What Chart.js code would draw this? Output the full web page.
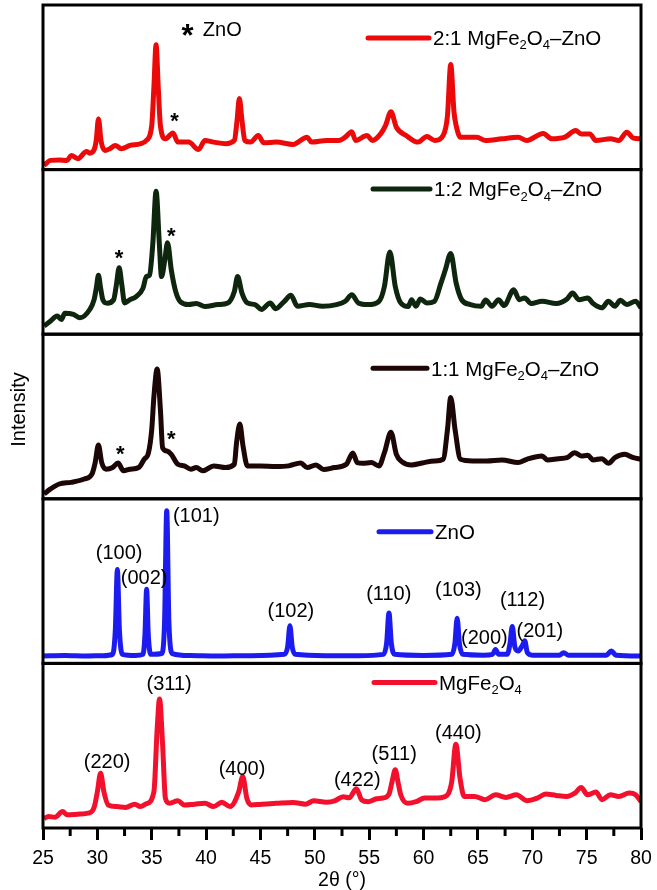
<!DOCTYPE html>
<html>
<head>
<meta charset="utf-8">
<script src="https://cdn.jsdelivr.net/npm/chart.js@4.4.1/dist/chart.umd.min.js"></script>
<style>
  html, body { margin: 0; padding: 0; background: #fff; }
</style>
</head>
<body>
<canvas id="xrd" width="657" height="890"></canvas>
<script>
// [2theta, intensity]; intensity is % of its panel height
const ratio21 = [[25.1,2.6],[25.7,5.6],[26.5,5.8],[27.2,5.6],[27.6,8.6],[28.2,6.6],[29.0,11],[29.3,10],[29.7,12],[29.9,18],[30.1,30.7],[30.35,17],[30.7,11.6],[31.15,12.7],[31.65,14.7],[32.2,12.7],[33.0,14.7],[33.95,15.7],[34.5,17.7],[35.0,26.7],[35.2,50],[35.4,75.9],[35.6,50],[35.8,26.7],[36.26,18.7],[36.95,22.3],[37.4,16.7],[38.4,16.7],[39.3,12.2],[39.9,17.7],[40.7,16.7],[41.8,15.7],[42.6,17.7],[42.85,30],[43.06,43.2],[43.3,30],[43.56,17.7],[44.1,16.7],[44.8,20.7],[45.3,16.3],[46.45,16.7],[48.0,15.3],[49.3,19.7],[49.7,16.7],[51.1,17.7],[52.2,17.7],[52.8,19.7],[53.4,23],[53.75,17.7],[54.8,20.7],[55.3,17.7],[56.05,21.7],[56.5,26.7],[57.0,35.1],[57.5,25.7],[58.4,20.7],[59.5,16.7],[60.3,20.1],[61.05,17.7],[61.8,20.7],[62.2,32.7],[62.5,63.9],[62.8,35],[63.0,26.7],[63.4,19.7],[64.9,19.7],[65.7,17.7],[67.2,18.7],[68.7,19.7],[69.5,17.7],[71.0,22],[71.8,18.7],[73.0,19.7],[74.0,23.7],[74.5,21.7],[75.3,21.7],[75.85,17.7],[77.2,18.7],[77.95,17.7],[78.7,22.7],[79.3,19.1],[80,18.7]];
const ratio12 = [[25.1,5],[25.7,8],[26.3,11],[26.7,9],[27.0,12.7],[27.8,12],[28.4,10],[29.3,15],[29.7,21],[29.9,28],[30.1,35.8],[30.3,28],[30.5,21],[30.9,18.8],[31.5,21],[31.75,30],[32.0,40.4],[32.25,30],[32.5,19],[33.0,21],[33.6,23],[34.2,28],[34.5,35],[34.8,36],[35.1,55],[35.4,86.9],[35.7,55],[35.9,35],[36.2,45],[36.45,55.6],[36.8,39],[37.2,26],[37.6,20],[38.4,18],[39.1,18.6],[39.9,16.8],[41.1,18],[42.0,19],[42.6,26],[42.9,35],[43.3,25],[43.8,19],[44.5,18],[45.1,15],[45.9,19],[46.4,15.5],[47.2,20],[47.8,23.6],[48.4,17],[49.5,18],[50.7,17],[52.0,18],[52.8,20],[53.4,24],[54.0,19],[54.9,18],[55.9,20],[56.4,29],[56.9,50],[57.4,29],[57.9,19],[58.6,16.8],[58.9,21],[59.3,17],[59.7,21.4],[60.3,19],[61.0,20],[61.6,31],[62.0,39],[62.5,49],[63.0,31],[63.5,21],[64.3,18],[65.3,17],[65.7,20.8],[66.3,17],[66.9,21],[67.4,17.4],[68.3,27],[68.8,21],[69.3,22],[69.9,18.6],[70.9,20],[72.2,18.6],[73.2,21.4],[73.7,25],[74.3,21],[75.1,22],[75.6,18.6],[76.4,16],[77.0,20],[77.6,17],[78.1,20.6],[78.7,18],[79.5,20],[80,16]];
const ratio11 = [[25.1,3],[25.7,6],[26.5,9],[27.6,10],[28.8,12],[29.5,15],[29.8,22],[30.1,32.7],[30.4,22],[30.8,18],[31.4,19],[31.9,21.8],[32.4,17],[33.0,18],[33.8,19],[34.3,24],[34.7,28],[35.0,42],[35.2,62],[35.5,78.8],[35.8,54],[36.0,31],[36.4,29],[36.8,27],[37.4,21],[38.0,20],[38.6,18],[39.1,19],[39.7,17],[40.7,20],[41.8,19],[42.6,21],[42.8,34],[43.1,45.5],[43.4,32],[43.8,20],[45.0,20],[46.4,19.6],[47.6,20],[48.7,21.8],[49.3,19],[50.1,20.6],[50.8,17.8],[51.8,19],[52.9,21],[53.5,27.9],[53.9,22],[54.4,21.6],[55.2,22],[55.9,20],[56.4,28],[57.0,40.4],[57.5,27],[58.0,22.6],[58.9,20.6],[59.9,21.8],[61.0,23],[61.8,24],[62.2,42],[62.5,61.6],[62.9,42],[63.4,24],[64.5,23],[65.8,23],[67.2,23.6],[68.7,22],[69.5,24],[70.9,26],[71.4,23.6],[72.4,24.4],[73.2,25],[73.9,28],[74.5,26],[75.1,26.4],[75.6,23.6],[76.4,24.4],[77.0,21.6],[77.6,25],[78.5,27],[79.3,25],[80,24]];
const zincOxide = [[25,4.5],[27,4.8],[29,4.5],[30.5,4.7],[31.4,5.5],[31.65,20],[31.84,57],[32.03,20],[32.3,5.5],[33.5,4.8],[34.2,5.5],[34.38,18],[34.53,45],[34.68,18],[34.9,5.5],[35.9,6],[36.18,25],[36.38,92.8],[36.58,25],[36.9,6],[38.5,4.8],[41,4.5],[44,4.7],[47.2,5.5],[47.5,10],[47.71,22.8],[47.92,10],[48.2,5.5],[51,4.7],[54,4.7],[56.3,5.5],[56.6,12],[56.82,30.6],[57.04,12],[57.35,5.5],[60,4.8],[62.6,5.5],[62.88,12],[63.09,27.5],[63.3,12],[63.6,5.5],[65.5,5],[66.35,5.5],[66.62,8.5],[66.9,5.5],[67.7,5.5],[67.95,12],[68.16,22.4],[68.4,10],[68.7,7.5],[69.1,11],[69.31,13.7],[69.55,6.5],[70,5],[72.5,5],[72.89,6.5],[73.3,5],[76.8,5],[77.27,7.5],[77.7,5],[80,4.5]];
const magFerrite = [[25.1,5.7],[25.5,7],[26.1,6.5],[26.8,10],[27.2,8],[28.4,8.5],[29.15,9],[29.7,12.5],[30.0,22],[30.3,33.3],[30.6,22],[31.0,14],[31.8,13],[32.6,12.5],[33.45,14.5],[33.95,13],[34.5,14.7],[35.2,22],[35.5,60],[35.72,78.4],[35.99,52],[36.26,18],[36.64,15],[37.4,16.5],[38.0,14],[38.95,14.5],[39.9,15],[40.7,13],[41.45,15.7],[42.2,13],[43.0,22],[43.37,31.3],[43.75,18],[44.14,14],[45.1,14.5],[46.45,15],[48.0,15.5],[49.14,14.5],[49.9,16.5],[51.06,15.7],[51.83,16.5],[52.6,19],[53.17,18.4],[53.82,23.8],[54.32,17],[54.9,16],[55.67,17.8],[56.25,18.2],[56.82,20.6],[57.1,28],[57.4,35.4],[57.65,28],[57.9,20.2],[58.55,15],[59.32,16],[60.09,18.2],[61.05,18.2],[62.0,19.2],[62.59,28],[62.97,50.9],[63.36,30],[63.74,19.2],[64.7,19.2],[65.66,17.2],[66.62,20.2],[67.58,18.6],[68.54,20.2],[69.5,16.6],[70.46,18.2],[71.23,20.6],[72.19,19.8],[73.16,19.2],[73.92,21.2],[74.5,24.6],[75.08,20.2],[75.85,21.8],[76.42,17.2],[77.19,20.2],[77.96,19.2],[78.92,21.2],[79.5,20.2],[80,16]];

// panels top to bottom
const series = [ratio21, ratio12, ratio11, zincOxide, magFerrite];
const seriesNames = ['2:1 MgFe_2O_4–ZnO', '1:2 MgFe_2O_4–ZnO', '1:1 MgFe_2O_4–ZnO', 'ZnO', 'MgFe_2O_4'];
const xTicks = [25, 30, 35, 40, 45, 50, 55, 60, 65, 70, 75, 80];

// peak labels: [panel, 2theta, intensity, text]
const planeLabels = [
  [3, 32.0, 67, '(100)'], [3, 34.3, 51.5, '(002)'], [3, 39.1, 89, '(101)'],
  [3, 47.8, 31.7, '(102)'], [3, 56.8, 42, '(110)'], [3, 63.2, 44, '(103)'],
  [3, 65.6, 15, '(200)'], [3, 69.1, 38.5, '(112)'], [3, 70.7, 19.3, '(201)'],
  [4, 30.9, 40, '(220)'], [4, 36.6, 87.3, '(311)'], [4, 43.3, 35.4, '(400)'],
  [4, 53.9, 28.7, '(422)'], [4, 57.3, 44.4, '(511)'], [4, 63.2, 57.6, '(440)']
];
// ZnO reflections marked with *: [panel, 2theta, intensity]
const starMarks = [[0, 37.1, 32.7], [1, 32.0, 49.5], [1, 36.8, 62.6], [2, 32.1, 30.3], [2, 36.8, 39.4]];

const colors = ['#ec0909', '#0d260d', '#1c0606', '#1c1cf0', '#f2102c'];
// legend placement per panel: [line start, line end, offset from panel top] in px
const legendPos = [[325, 386, 33], [330, 387, 19.5], [330, 384, 34], [336, 388, 33], [331, 392, 19]];

const FONT = '"Liberation Sans", Arial, Helvetica, sans-serif';
Chart.defaults.font.family = FONT;
Chart.defaults.color = '#000';

const yIds = series.map((s, i) => 'y' + i);

function drawRich(ctx, str, x, y, size) {
  // "_d" -> subscript digit
  const parts = str.split(/_(\d)/);
  ctx.textAlign = 'left';
  ctx.textBaseline = 'alphabetic';
  const base = y + size * 0.36;
  parts.forEach((p, k) => {
    const sub = k % 2 === 1;
    ctx.font = (sub ? Math.round(size * 0.62) : size) + 'px ' + FONT;
    ctx.fillText(p, x, sub ? base + size * 0.2 : base);
    x += ctx.measureText(p).width;
  });
}

const panelPlugin = {
  id: 'panels',
  afterDatasetsDraw(chart) {
    const { ctx, chartArea } = chart;
    const xs = chart.scales.x;
    ctx.save();
    yIds.forEach((id, i) => {
      const ys = chart.scales[id];
      ctx.lineWidth = 3;
      ctx.strokeStyle = '#000';
      ctx.strokeRect(chartArea.left, ys.top, chartArea.right - chartArea.left, ys.bottom - ys.top);

      const lp = legendPos[i];
      const ly = ys.top + lp[2];
      ctx.beginPath();
      ctx.lineWidth = 5;
      ctx.lineCap = 'round';
      ctx.strokeStyle = colors[i];
      ctx.moveTo(chartArea.left + lp[0], ly);
      ctx.lineTo(chartArea.left + lp[1], ly);
      ctx.stroke();
      ctx.lineCap = 'butt';
      ctx.fillStyle = '#000';
      drawRich(ctx, seriesNames[i], chartArea.left + lp[1] + 4, ly, 20.5);
    });

    // minor ticks between labelled ones
    ctx.strokeStyle = '#000';
    ctx.lineWidth = 3;
    for (let k = 0; k < xTicks.length - 1; k++) {
      const px = xs.getPixelForValue((xTicks[k] + xTicks[k + 1]) / 2);
      ctx.beginPath();
      ctx.moveTo(px, chartArea.bottom);
      ctx.lineTo(px, chartArea.bottom + 8);
      ctx.stroke();
    }

    ctx.fillStyle = '#000';
    ctx.textAlign = 'center';
    ctx.textBaseline = 'middle';
    ctx.font = '20px ' + FONT;
    planeLabels.forEach(([p, x, y, t]) => {
      ctx.fillText(t, xs.getPixelForValue(x), chart.scales[yIds[p]].getPixelForValue(y));
    });

    ctx.textBaseline = 'alphabetic';
    ctx.font = 'bold 22px ' + FONT;
    starMarks.forEach(([p, x, y]) => {
      ctx.fillText('*', xs.getPixelForValue(x), chart.scales[yIds[p]].getPixelForValue(y) + 12);
    });

    // "* ZnO" key in the top panel
    const y0 = chart.scales.y0;
    ctx.font = 'bold 31px ' + FONT;
    ctx.fillText('*', xs.getPixelForValue(38.3), y0.getPixelForValue(85) + 16);
    ctx.textAlign = 'left';
    ctx.textBaseline = 'middle';
    ctx.font = '20px ' + FONT;
    ctx.fillText('ZnO', xs.getPixelForValue(39.7), y0.getPixelForValue(85) + 1);

    ctx.translate(19.5, (chartArea.top + chartArea.bottom) / 2 - 7);
    ctx.rotate(-Math.PI / 2);
    ctx.textAlign = 'center';
    ctx.font = '20px ' + FONT;
    ctx.fillText('Intensity', 0, 0);
    ctx.restore();
  }
};

const scales = {
  x: {
    type: 'linear',
    min: 25,
    max: 80,
    afterBuildTicks: (axis) => { axis.ticks = xTicks.map(v => ({ value: v })); },
    afterFit: (axis) => {
      // fixed band under the plot so the axis line sits where the figure has it
      axis.height = 62;
      axis.paddingLeft = 0;
      axis.paddingRight = 0;
    },
    ticks: { font: { size: 19.5 }, color: '#000', padding: 7, maxRotation: 0, autoSkip: false },
    grid: { drawOnChartArea: false, tickLength: 12, tickWidth: 3, tickColor: '#000' },
    border: { display: false },
    title: { display: true, text: '2θ (°)', font: { size: 19.5, lineHeight: 1 }, color: '#000', padding: { top: 0, bottom: 0 } }
  }
};
yIds.forEach((id, i) => {
  scales[id] = {
    type: 'linear',
    position: 'left',
    stack: 'panels',
    stackWeight: 1,
    weight: series.length - i,
    min: 0,
    max: 100,
    ticks: { display: false },
    grid: { display: false, drawTicks: false },
    border: { display: false }
  };
});

new Chart(document.getElementById('xrd'), {
  type: 'line',
  data: {
    datasets: series.map((s, i) => ({
      label: seriesNames[i],
      data: s.map(([x, y]) => ({ x, y })),
      yAxisID: yIds[i],
      borderColor: colors[i],
      borderWidth: 5,
      pointRadius: 0,
      fill: false,
      cubicInterpolationMode: 'monotone'
    }))
  },
  options: {
    responsive: false,
    animation: false,
    devicePixelRatio: 1,
    layout: { padding: { left: 43, right: 16, top: 5, bottom: 0 } },
    scales,
    plugins: { legend: { display: false }, tooltip: { enabled: false } }
  },
  plugins: [panelPlugin]
});
</script>
</body>
</html>
